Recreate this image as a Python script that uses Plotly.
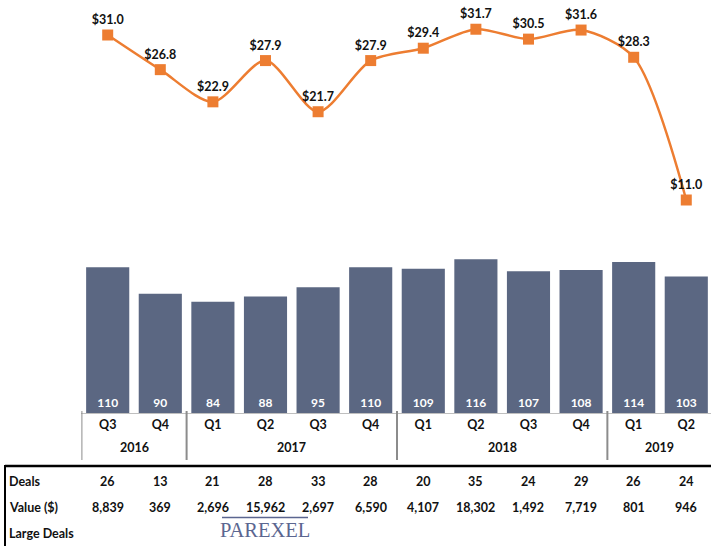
import plotly.graph_objects as go

# ---------------- data ----------------
quarters = ["Q3", "Q4", "Q1", "Q2", "Q3", "Q4", "Q1", "Q2", "Q3", "Q4", "Q1", "Q2"]
years = ["2016", "2016", "2017", "2017", "2017", "2017",
         "2018", "2018", "2018", "2018", "2019", "2019"]
deal_counts = [110, 90, 84, 88, 95, 110, 109, 116, 107, 108, 114, 103]
avg_value = [31.0, 26.8, 22.9, 27.9, 21.7, 27.9, 29.4, 31.7, 30.5, 31.6, 28.3, 11.0]
large_deals = [26, 13, 21, 28, 33, 28, 20, 35, 24, 29, 26, 24]
large_value = [8839, 369, 2696, 15962, 2697, 6590, 4107, 18302, 1492, 7719, 801, 946]
row_labels = ["Deals", "Value ($)", "Large Deals"]

W, H = 711, 546
FONT = "Lato"
BAR_C = "#5B6782"
LINE_C = "#ED7D31"
TXT = "#111111"


def py(px):  # pixel from top -> paper fraction
    return (H - px) / H


idx = list(range(len(quarters)))

fig = go.Figure()
fig.add_trace(go.Bar(
    x=idx, y=deal_counts, width=0.82, marker=dict(color=BAR_C, line=dict(width=0)),
    text=[str(v) for v in deal_counts], textposition="inside", insidetextanchor="start",
    textfont=dict(family=FONT, size=12, color="white", weight="bold"),
    yaxis="y", xaxis="x", showlegend=False, hoverinfo="skip",
))
fig.add_trace(go.Scatter(
    x=idx, y=avg_value, mode="lines+markers+text",
    line=dict(color=LINE_C, width=2.5, shape="spline", smoothing=0.8),
    marker=dict(symbol="square", size=11, color=LINE_C),
    text=[f"${v:.1f}" for v in avg_value], textposition="top center",
    textfont=dict(family=FONT, size=12.5, color=TXT, weight="bold"),
    cliponaxis=False, yaxis="y2", xaxis="x", showlegend=False, hoverinfo="skip",
))

fig.update_layout(
    template="none",
    width=W, height=H, margin=dict(l=0, r=0, t=0, b=0, pad=0), autosize=False,
    paper_bgcolor="white", plot_bgcolor="rgba(0,0,0,0)",
    xaxis=dict(domain=[81.4 / W, 1], range=[-0.5, 11.47], tickvals=idx, ticktext=quarters,
               showgrid=False, zeroline=False, showline=True, linecolor="#BFBFBF", linewidth=1,
               ticks="", tickfont=dict(family=FONT, size=12.5, color=TXT, weight="bold"),
               anchor="y", automargin=False, fixedrange=True),
    yaxis=dict(domain=[py(413), py(240)], range=[0, 173 / 1.3245], visible=False,
               automargin=False, fixedrange=True),
    yaxis2=dict(domain=[py(290.75), 1], range=[0, 290.75 / 8.25], visible=False,
                anchor="x", automargin=False, fixedrange=True),
    font=dict(family=FONT),
)

shapes = []
annotations = []
tf = dict(family=FONT, size=12.5, color=TXT, weight="bold")

# year group labels and dividers
groups = []
for i, y in enumerate(years):
    if not groups or groups[-1][0] != y:
        groups.append([y, i, i])
    else:
        groups[-1][2] = i
for y, a, b in groups:
    annotations.append(dict(x=(a + b) / 2, y=py(447), xref="x", yref="paper", text=y, showarrow=False,
                            xanchor="center", yanchor="middle", font=tf))
    shapes.append(dict(type="line", xref="x", yref="paper", x0=a - 0.5, x1=a - 0.5,
                       y0=py(411), y1=py(460), line=dict(color="#8C8C8C", width=2)))

# table lines
shapes.append(dict(type="line", xref="paper", yref="paper", x0=5 / W, x1=1, y0=py(466), y1=py(466),
                   line=dict(color="black", width=2.5)))
shapes.append(dict(type="line", xref="paper", yref="paper", x0=5 / W, x1=5 / W, y0=py(465), y1=0,
                   line=dict(color="black", width=2)))

row_y = [481, 507, 533]
for lbl, ry in zip(row_labels, row_y):
    annotations.append(dict(x=7 / W, y=py(ry), xref="paper", yref="paper", text=lbl, showarrow=False,
                            xanchor="left", yanchor="middle", font=tf))
for i in idx:
    annotations.append(dict(x=i, y=py(row_y[0]), xref="x", yref="paper", text=str(large_deals[i]),
                            showarrow=False, xanchor="center", yanchor="middle", font=tf))
    annotations.append(dict(x=i, y=py(row_y[1]), xref="x", yref="paper", text=f"{large_value[i]:,}",
                            showarrow=False, xanchor="center", yanchor="middle", font=tf))

# logo
annotations.append(dict(x=265 / W, y=py(530), xref="paper", yref="paper", text="PAREXEL", showarrow=False,
                        xanchor="center", yanchor="middle",
                        font=dict(family="Liberation Serif", size=20.5, color="#5B6690")))
shapes.append(dict(type="line", xref="paper", yref="paper", x0=222 / W, x1=308 / W, y0=py(517.5), y1=py(517.5),
                   line=dict(color="#5B6690", width=1.5)))

fig.update_layout(shapes=shapes, annotations=annotations)
fig.write_html("out.html", config={"displayModeBar": False},
               post_script="document.body.style.margin='0';document.body.style.overflow='hidden';")
